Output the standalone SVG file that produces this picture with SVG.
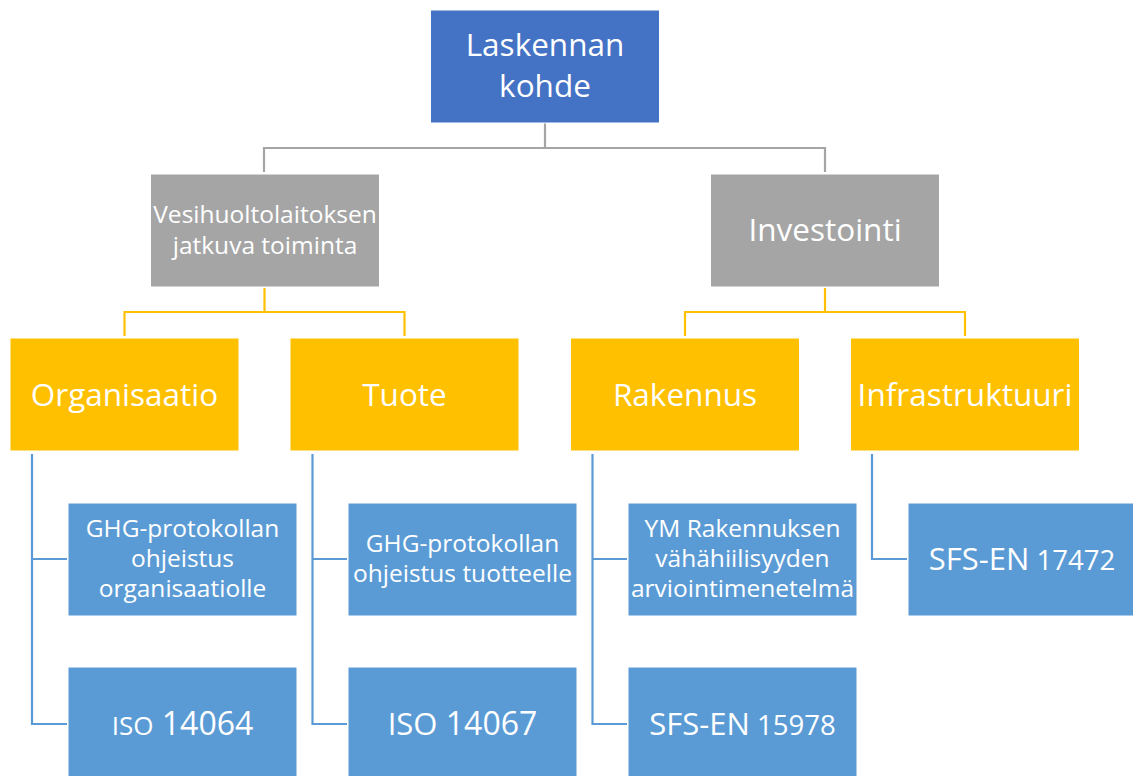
<svg xmlns="http://www.w3.org/2000/svg" width="1133" height="776" viewBox="0 0 1133 776">
<style>
  .box { stroke: #ffffff; stroke-width: 1; }
  .top { fill: #4472C4; }
  .gray { fill: #A5A5A5; }
  .orange { fill: #FFC000; }
  .blue { fill: #5B9BD5; }
  text { font-family: "Open Sans", "Liberation Sans", sans-serif; fill: #ffffff; text-anchor: middle; }
  .big { font-size: 31.5px; }
  .small { font-size: 24.5px; }
  .conn { fill: none; stroke-width: 2.2; }
</style>
<rect width="1133" height="776" fill="#ffffff"/>
<g id="connectors">
  <path class="conn" stroke="#A5A5A5" d="M545,123 V148 M264,148 H826 M264,147 V172 M825,147 V172"/>
  <path class="conn" stroke="#FFC000" d="M264.5,288 V312 M124.5,312 H405.5 M124.5,311 V336 M404.5,311 V336"/>
  <path class="conn" stroke="#FFC000" d="M825,288 V312 M685,312 H966 M685,311 V336 M965,311 V336"/>
  <path class="conn" stroke="#5B9BD5" d="M32,454 V724 H67 M32,559 H67"/>
  <path class="conn" stroke="#5B9BD5" d="M312.5,454 V724 H347 M312.5,559 H347"/>
  <path class="conn" stroke="#5B9BD5" d="M592.5,454 V724 H627 M592.5,559 H627"/>
  <path class="conn" stroke="#5B9BD5" d="M872,454 V559 H907"/>
</g>
<g id="laskennan-kohde">
  <rect class="box top" x="430.5" y="10" width="229" height="113"/>
  <text class="big" x="545" y="56">Laskennan</text>
  <text class="big" x="545" y="97">kohde</text>
</g>
<g id="vesihuolto">
  <rect class="box gray" x="150.5" y="174" width="229" height="113"/>
  <text class="small" x="265" y="223">Vesihuoltolaitoksen</text>
  <text class="small" x="265" y="254">jatkuva toiminta</text>
</g>
<g id="investointi">
  <rect class="box gray" x="710.5" y="174" width="229" height="113"/>
  <text class="big" x="825" y="241">Investointi</text>
</g>
<g id="organisaatio">
  <rect class="box orange" x="10" y="338" width="229" height="113"/>
  <text class="big" x="124.5" y="406">Organisaatio</text>
</g>
<g id="tuote">
  <rect class="box orange" x="290" y="338" width="229" height="113"/>
  <text class="big" x="404.5" y="406">Tuote</text>
</g>
<g id="rakennus">
  <rect class="box orange" x="570.5" y="338" width="229" height="113"/>
  <text class="big" x="685" y="406">Rakennus</text>
</g>
<g id="infrastruktuuri">
  <rect class="box orange" x="850.5" y="338" width="229" height="113"/>
  <text class="big" x="965" y="406">Infrastruktuuri</text>
</g>
<g id="ghg-organisaatio">
  <rect class="box blue" x="68" y="503" width="229" height="113"/>
  <text class="small" x="182.5" y="537">GHG-protokollan</text>
  <text class="small" x="182.5" y="567">ohjeistus</text>
  <text class="small" x="182.5" y="597">organisaatiolle</text>
</g>
<g id="ghg-tuote">
  <rect class="box blue" x="348" y="503" width="229" height="113"/>
  <text class="small" x="462.5" y="552">GHG-protokollan</text>
  <text class="small" x="462.5" y="582">ohjeistus tuotteelle</text>
</g>
<g id="ym-rakennus">
  <rect class="box blue" x="628" y="503" width="229" height="113"/>
  <text class="small" x="742.5" y="537">YM Rakennuksen</text>
  <text class="small" x="742.5" y="567">vähähiilisyyden</text>
  <text class="small" x="742.5" y="597">arviointimenetelmä</text>
</g>
<g id="sfs-en-17472">
  <rect class="box blue" x="908" y="503" width="229" height="113"/>
  <text x="1022" y="570"><tspan font-size="31">SFS-EN</tspan><tspan font-size="27.5"> 17472</tspan></text>
</g>
<g id="iso-14064">
  <rect class="box blue" x="68" y="667" width="229" height="113"/>
  <text x="182.5" y="735"><tspan font-size="26">ISO</tspan><tspan font-size="32"> 14064</tspan></text>
</g>
<g id="iso-14067">
  <rect class="box blue" x="348" y="667" width="229" height="113"/>
  <text x="462.5" y="735"><tspan font-size="31">ISO</tspan><tspan font-size="32"> 14067</tspan></text>
</g>
<g id="sfs-en-15978">
  <rect class="box blue" x="628" y="667" width="229" height="113"/>
  <text x="742.5" y="735"><tspan font-size="31">SFS-EN</tspan><tspan font-size="27.5"> 15978</tspan></text>
</g>
</svg>
